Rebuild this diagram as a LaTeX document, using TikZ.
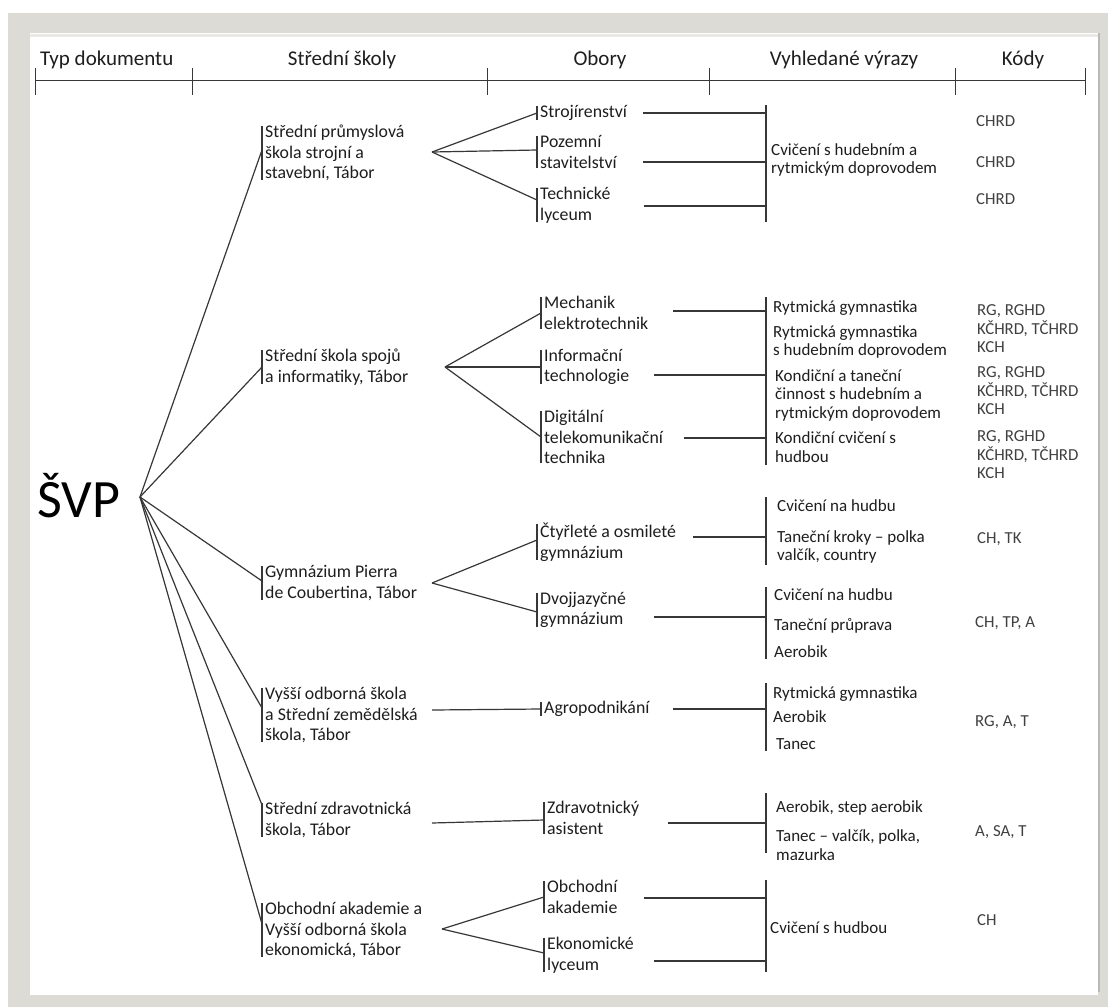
\documentclass[tikz,border=0pt]{standalone}
\usepackage{fontspec}
\setmainfont{Carlito}
\definecolor{ramec}{RGB}{221,219,213}
\definecolor{stin}{RGB}{185,185,182}
\definecolor{cara}{RGB}{55,55,55}
\definecolor{pismo}{RGB}{30,30,30}
\newcommand{\velikost}[2]{\fontsize{#1}{#2}\selectfont}

\begin{document}
\begin{tikzpicture}[x=1pt, y=-1pt]
  \tikzset{
    spoj/.style={draw=cara, line width=1.2pt},
    osa/.style={draw=cara, line width=1pt},
    hlavicka/.style={font=\velikost{21}{24}, text=pismo, anchor=base, inner sep=0pt},
    skola/.style={anchor=west, align=left, inner xsep=3pt, inner ysep=-1pt, text=pismo,
                  font=\velikost{17.8}{20.5},
                  append after command={(\tikzlastnode.north west) edge[spoj] (\tikzlastnode.south west)}},
    vyraz/.style={anchor=west, align=left, inner sep=0pt, text=pismo, font=\velikost{17}{18.5}},
    kod/.style={anchor=west, align=left, inner sep=0pt, text=pismo!85, font=\velikost{16.8}{18.5}},
  }
  \useasboundingbox (0,0) rectangle (1108,1007);
  % ramecek
  \fill[white] (0,0) rectangle (1108,1007);
  \fill[ramec] (8,13) rectangle (1108,1007);
  \fill[white] (30,33) rectangle (1098,995);
  \draw[ramec!60, line width=3pt] (30,35) -- (1098,35);
  \draw[stin, line width=1.5pt] (1099,33) -- (1099,992);

  % hlavicka
  \draw[osa] (35,80) -- (1085,80);
  \foreach \x in {35,192,487,709,955,1085}
    \draw[osa] (\x,68) -- (\x,95);
  \node[hlavicka, anchor=base west] (h1) at (40,65) {Typ dokumentu};
  \node[hlavicka] (h2) at (342,65) {Střední školy};
  \node[hlavicka] (h3) at (600,65) {Obory};
  \node[hlavicka] (h4) at (844,65) {Vyhledané výrazy};
  \node[hlavicka] (h5) at (1023,65) {Kódy};

  % typ dokumentu
  \node[font=\velikost{54}{60}, anchor=base, inner sep=0pt] (svp) at (79,517) {ŠVP};
  \coordinate (hub) at (140,497);

  % stredni skoly
  \node[skola] (s1) at (262,153) {Střední průmyslová\\škola strojní a\\stavební, Tábor};
  \node[skola] (s2) at (262,367) {Střední škola spojů\\a informatiky, Tábor};
  \node[skola] (s3) at (262,583) {Gymnázium Pierra\\de Coubertina, Tábor};
  \node[skola] (s4) at (262,715) {Vyšší odborná škola\\a Střední zemědělská\\škola, Tábor};
  \node[skola] (s5) at (262,820) {Střední zdravotnická\\škola, Tábor};
  \node[skola] (s6) at (262,930) {Obchodní akademie a\\Vyšší odborná škola\\ekonomická, Tábor};
  \foreach \s/\dy in {s1/3, s2/0, s3/2, s4/7, s5/15, s6/6}
    \draw[spoj] (hub) -- ([yshift=\dy pt]\s.west);

  % obory
  \node[skola] (o11) at (537,113) {Strojírenství};
  \node[skola] (o12) at (537,152) {Pozemní\\stavitelství};
  \node[skola] (o13) at (537,205) {Technické\\lyceum};
  \node[skola] (o21) at (541,313) {Mechanik\\elektrotechnik};
  \node[skola] (o22) at (541,367) {Informační\\technologie};
  \node[skola] (o23) at (541,437) {Digitální\\telekomunikační\\technika};
  \node[skola] (o31) at (537,542) {Čtyřleté a osmileté\\gymnázium};
  \node[skola] (o32) at (537,610) {Dvojjazyčné\\gymnázium};
  \node[skola] (o41) at (541,709) {Agropodnikání};
  \node[skola] (o51) at (544,818) {Zdravotnický\\asistent};
  \node[skola] (o61) at (544,897) {Obchodní\\akademie};
  \node[skola] (o62) at (544,955) {Ekonomické\\lyceum};

  \coordinate (f1) at (432,152);
  \coordinate (f2) at (445,367);
  \coordinate (f3) at (432,583);
  \coordinate (f4) at (432,710);
  \coordinate (f5) at (432,823);
  \coordinate (f6) at (442,929);
  \foreach \f/\o/\dy in {f1/o11/0, f1/o12/2, f1/o13/5, f2/o21/0, f2/o22/0, f2/o23/0,
                         f3/o31/2, f3/o32/-2, f4/o41/0, f5/o51/-2, f6/o61/0, f6/o62/2}
    \draw[spoj] (\f) -- ([yshift=\dy pt]\o.west);

  % vyhledane vyrazy
  \foreach \g/\ya/\yb in {1/105/222, 2/297/465, 3/497/565, 4/587/659, 5/683/751, 6/793/853, 7/880/972}
    \draw[spoj] (766,\ya) coordinate (bh\g) -- (766,\yb) coordinate (bd\g);
  \foreach \k/\xa/\ya/\g in {11/643/113/1, 12/643/162/1, 13/644/206/1,
                             21/673/311/2, 22/654/375/2, 23/684/438/2,
                             31/693/537/3, 32/654/617/4, 41/673/709/5,
                             51/668/823/6, 61/644/898/7, 62/654/961/7}
    \draw[spoj] (\xa,\ya) coordinate (k\k) -- (k\k -| bh\g);

  \node[vyraz] (v1)  at (771,160) {Cvičení s hudebním a\\rytmickým doprovodem};
  \node[vyraz] (v21) at (773,308) {Rytmická gymnastika};
  \node[vyraz] (v22) at (773,342) {Rytmická gymnastika\\s hudebním doprovodem};
  \node[vyraz] (v23) at (775,395) {Kondiční a taneční\\činnost s hudebním a\\rytmickým doprovodem};
  \node[vyraz] (v24) at (775,447) {Kondiční cvičení s\\hudbou};
  \node[vyraz] (v31) at (777,506) {Cvičení na hudbu};
  \node[vyraz] (v32) at (777,547) {Taneční kroky – polka\\valčík, country};
  \node[vyraz] (v41) at (774,595) {Cvičení na hudbu};
  \node[vyraz] (v42) at (774,626) {Taneční průprava};
  \node[vyraz] (v43) at (774,652) {Aerobik};
  \node[vyraz] (v51) at (773,694) {Rytmická gymnastika};
  \node[vyraz] (v52) at (773,717) {Aerobik};
  \node[vyraz] (v53) at (776,744) {Tanec};
  \node[vyraz] (v61) at (776,808) {Aerobik, step aerobik};
  \node[vyraz] (v62) at (776,845) {Tanec – valčík, polka,\\mazurka};
  \node[vyraz] (v71) at (770,928) {Cvičení s hudbou};

  % kody
  \foreach \c/\y in {11/121, 12/162, 13/199}
    \node[kod] (c\c) at (976,\y) {CHRD};
  \foreach \c/\y in {21/329, 22/391, 23/455}
    \node[kod] (c\c) at (977,\y) {RG, RGHD\\KČHRD, TČHRD\\KCH};
  \node[kod] (c31) at (977,539) {CH, TK};
  \node[kod] (c41) at (975,623) {CH, TP, A};
  \node[kod] (c51) at (975,722) {RG, A, T};
  \node[kod] (c61) at (975,832) {A, SA, T};
  \node[kod] (c71) at (977,920) {CH};
\end{tikzpicture}
\end{document}
